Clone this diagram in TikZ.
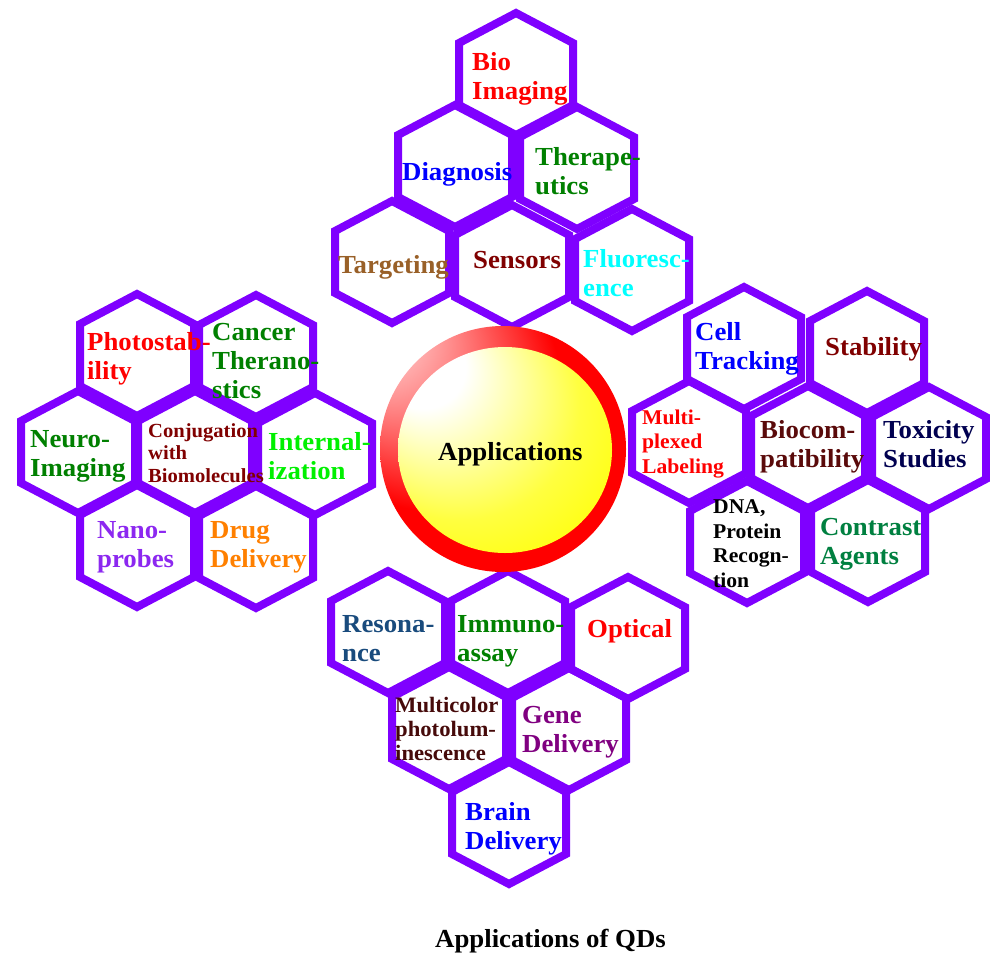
\documentclass[tikz,border=0pt]{standalone}
\usepackage{fontspec}
\setmainfont[FakeStretch=1.03]{Liberation Serif}
\definecolor{hexcol}{RGB}{127,0,255}
\definecolor{cRed}{RGB}{255,0,0}
\definecolor{cBlue}{RGB}{0,0,255}
\definecolor{cGreen}{RGB}{0,128,0}
\definecolor{cBrown}{RGB}{153,96,40}
\definecolor{cMaroon}{RGB}{128,0,0}
\definecolor{cCyan}{RGB}{0,255,255}
\definecolor{cLime}{RGB}{0,240,0}
\definecolor{cViolet}{RGB}{140,40,240}
\definecolor{cOrange}{RGB}{255,128,0}
\definecolor{cDarkMaroon}{RGB}{90,10,10}
\definecolor{cNavy}{RGB}{0,0,80}
\definecolor{cTeal}{RGB}{0,128,64}
\definecolor{cSteel}{RGB}{25,75,125}
\definecolor{cPlum}{RGB}{128,0,128}
\definecolor{cDeepMaroon}{RGB}{70,10,10}
\pgfdeclareradialshading{redglow}{\pgfpoint{-30bp}{28bp}}{color(0bp)=(white); color(12bp)=(red!45!white); color(26bp)=(red); color(50bp)=(red)}
\pgfdeclareradialshading{yellowglow}{\pgfpoint{-24bp}{25bp}}{color(0bp)=(white); color(10bp)=(white); color(28bp)=(yellow!75!white); color(40bp)=(yellow); color(50bp)=(yellow)}
\begin{document}
\begin{tikzpicture}[x=1pt,y=-1pt,
  hexline/.style={draw=hexcol, line width=8pt, line join=miter},
  hexcell/.pic={\path[hexline] (-57,-31) -- (-57,31) -- (0,61) -- (57,31) -- (57,-31) -- (0,-61) -- cycle;},
  lbl/.style={anchor=base west, inner sep=0pt, align=left, font=\bfseries\fontsize{26}{29}\selectfont},
  lblconj/.style={lbl, font=\bfseries\fontsize{20}{22.5}\selectfont},
  lblmid/.style={lbl, font=\bfseries\fontsize{21}{24.5}\selectfont},
  lblmc/.style={lbl, font=\bfseries\fontsize{22}{24}\selectfont}
]
\fill[white] (0,0) rectangle (990,954);
\useasboundingbox (0,0) rectangle (990,954);
% top cluster
\pic (hBio) at (516,74) {hexcell};
\pic (hDiag) at (455,166) {hexcell};
\pic (hThera) at (577,168) {hexcell};
\pic (hTarg) at (392,262) {hexcell};
\pic (hSens) at (512,266) {hexcell};
\pic (hFluor) at (632,270) {hexcell};
% left cluster
\pic (hPhoto) at (137,355) {hexcell};
\pic (hCancer) at (256,356) {hexcell};
\pic (hNeuro) at (78,452) {hexcell};
\pic (hConj) at (195,452) {hexcell};
\pic (hIntern) at (315,454) {hexcell};
\pic (hNano) at (137,546) {hexcell};
\pic (hDrug) at (256,547) {hexcell};
% right cluster
\pic (hCell) at (744,348) {hexcell};
\pic (hStab) at (867,352) {hexcell};
\pic (hMulti) at (689,442) {hexcell};
\pic (hBiocomp) at (808,447) {hexcell};
\pic (hTox) at (929,448) {hexcell};
\pic (hDNA) at (747,542) {hexcell};
\pic (hContrast) at (868,541) {hexcell};
% bottom cluster
\pic (hRes) at (388,632) {hexcell};
\pic (hImm) at (508,632) {hexcell};
\pic (hOpt) at (628,638) {hexcell};
\pic (hMcol) at (449,728) {hexcell};
\pic (hGene) at (569,729) {hexcell};
\pic (hBrain) at (509,823) {hexcell};
% centre
\path[shading=redglow] (503,449) circle[radius=123];
\path[shading=yellowglow] (505,450) ellipse[x radius=107, y radius=103];
% labels (anchor = baseline of the last line)
\node[lbl, text=cRed] (tBio) at (472,99) {Bio\\Imaging};
\node[lbl, text=cBlue] (tDiag) at (402,180) {Diagnosis};
\node[lbl, text=cGreen] (tThera) at (535,194) {Therape-\\utics};
\node[lbl, text=cBrown] (tTarg) at (338,273) {Targeting};
\node[lbl, text=cMaroon] (tSens) at (473,268) {Sensors};
\node[lbl, text=cCyan] (tFluor) at (583,296) {Fluoresc-\\ence};
\node[lbl, text=cRed] (tPhoto) at (87,379) {Photostab-\\ility};
\node[lbl, text=cGreen] (tCancer) at (212,398) {Cancer\\Therano-\\stics};
\node[lbl, text=cGreen] (tNeuro) at (30,476) {Neuro-\\Imaging};
\node[lblconj, text=cMaroon] (tConj) at (148,482) {Conjugation\\with\\Biomolecules};
\node[lbl, text=cLime] (tIntern) at (268,479) {Internal-\\ization};
\node[lbl, text=cViolet] (tNano) at (97,567) {Nano-\\probes};
\node[lbl, text=cOrange] (tDrug) at (210,567) {Drug\\Delivery};
\node[lbl, text=cBlue] (tCell) at (695,369) {Cell\\Tracking};
\node[lbl, text=cMaroon] (tStab) at (825,355) {Stability};
\node[lblmid, text=cRed] (tMulti) at (642,473) {Multi-\\plexed\\Labeling};
\node[lbl, text=cDarkMaroon] (tBiocomp) at (760,467) {Biocom-\\patibility};
\node[lbl, text=cNavy] (tTox) at (883,467) {Toxicity\\Studies};
\node[lblmid, text=black] (tDNA) at (713,587) {DNA,\\Protein\\Recogn-\\tion};
\node[lbl, text=cTeal] (tContrast) at (820,564) {Contrast\\Agents};
\node[lbl, text=cSteel] (tRes) at (342,661) {Resona-\\nce};
\node[lbl, text=cGreen] (tImm) at (457,661) {Immuno-\\assay};
\node[lbl, text=cRed] (tOpt) at (587,637) {Optical};
\node[lblmc, text=cDeepMaroon] (tMcol) at (395,760) {Multicolor\\photolum-\\inescence};
\node[lbl, text=cPlum] (tGene) at (522,752) {Gene\\Delivery};
\node[lbl, text=cBlue] (tBrain) at (465,849) {Brain\\Delivery};
\node[lbl, text=black] (tApp) at (438,460) {Applications};
\node[lbl, text=black] (tCaption) at (435,947) {Applications of QDs};
\end{tikzpicture}
\end{document}
